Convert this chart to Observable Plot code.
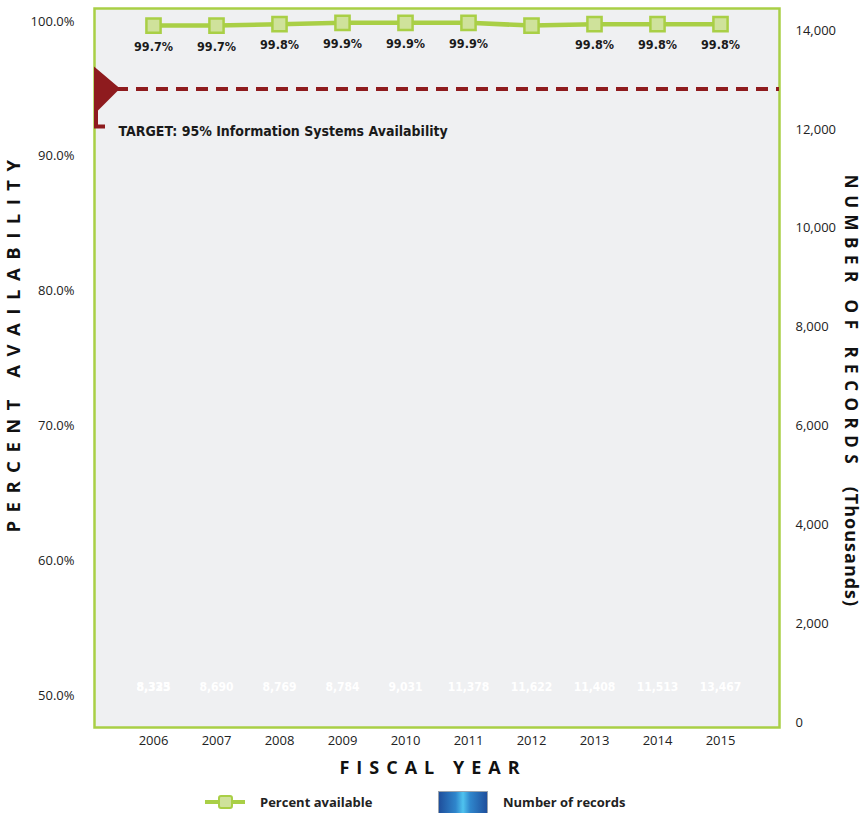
<!DOCTYPE html>
<html>
<head>
<meta charset="utf-8">
<script src="https://cdn.jsdelivr.net/npm/d3@7"></script>
<script src="https://cdn.jsdelivr.net/npm/@observablehq/plot@0.6"></script>
<style>
  html, body { margin: 0; padding: 0; background: #ffffff; }
  #chart { position: relative; width: 864px; }
  .legend { position: relative; height: 23px; width: 864px; overflow: hidden; font-family: "Open Sans", "Noto Sans", sans-serif; font-weight: 700; font-size: 13px; color: #222; }
  .legend .item { position: absolute; top: 0; height: 23px; display: flex; align-items: center; }
  .swatch-line { position: relative; width: 40px; height: 4px; background: #a9cf46; margin-right: 15px; }
  .swatch-line::after { content: ""; position: absolute; left: 13px; top: -5px; width: 11px; height: 10px; background: #cfe29b; border: 2px solid #a9cf46; border-radius: 3px; }
  .swatch-bar { width: 48px; height: 30px; margin-top: 10px; margin-right: 15px; border: 1.5px solid #9aa3ad; background: linear-gradient(to right, #1f4f9c, #2f86cc 35%, #4fc3ef 50%, #2f86cc 65%, #1f4f9c); }
</style>
</head>
<body>
<div id="chart"></div>
<div class="legend">
  <div class="item" style="left:205px"><div class="swatch-line"></div><span>Percent available</span></div>
  <div class="item" style="left:438px"><div class="swatch-bar"></div><span>Number of records</span></div>
</div>
<script>
// ---- Data ----
const years = ["2006","2007","2008","2009","2010","2011","2012","2013","2014","2015"];
const percentAvailable = [99.7, 99.7, 99.8, 99.9, 99.9, 99.9, 99.7, 99.8, 99.8, 99.8];
const percentLabels = ["99.7%","99.7%","99.8%","99.9%","99.9%","99.9%","","99.8%","99.8%","99.8%"];
const recordsThousands = [8335, 8690, 8769, 8784, 9031, 11378, 11622, 11408, 11513, 13467];
// second (overlapping) label printed for 2006 in the source
const extraRecordLabelYears = ["2006"];
const extraRecordLabelValues = [8323];
const targetPercent = 95;
const targetText = "TARGET: 95% Information Systems Availability";
const leftTicks = [50, 60, 70, 80, 90, 100];
const rightTicks = [0, 2000, 4000, 6000, 8000, 10000, 12000, 14000];

const data = years.map((y, i) => ({year: y, pct: percentAvailable[i], label: percentLabels[i], rec: recordsThousands[i]}));
const extraLabels = extraRecordLabelYears.map((y, i) => ({year: y, rec: extraRecordLabelValues[i]}));

// Left scale (percent) and right scale (records) share the vertical space
const yRange = [695, 21];
const recRange = [722, 30];
const pctPix = d3.scaleLinear([50, 100], yRange);
const recPix = d3.scaleLinear([0, 14000], recRange);
const recToPct = r => pctPix.invert(recPix(r));

const fmt = d3.format(",");
const condensed = "'DejaVu Sans Condensed', 'Liberation Sans Narrow', sans-serif";
const sans = "'Open Sans', 'Noto Sans', sans-serif";

const plot = Plot.plot({
  width: 864,
  height: 790,
  marginLeft: 94,
  marginRight: 85,
  marginTop: 8,
  marginBottom: 63,
  style: {fontFamily: sans, fontSize: "13px", color: "#222", background: "transparent"},
  x: {type: "point", domain: years, padding: 0.9, label: null},
  y: {domain: [50, 100], range: yRange, label: null},
  marks: [
    Plot.frame({fill: "#eff0f2", stroke: "#a9cf46", strokeWidth: 2.5}),
    // left axis
    Plot.axisY(leftTicks, {anchor: "left", tickSize: 0, tickPadding: 20, tickFormat: d => d.toFixed(1) + "%", fontSize: 13, label: null}),
    // right axis (records in thousands)
    Plot.axisY(rightTicks.map(recToPct), {anchor: "right", tickSize: 0, tickPadding: 16, textAnchor: "start", tickFormat: (d, i) => fmt(rightTicks[i]), fontSize: 13, label: null}),
    // x axis
    Plot.axisX({tickSize: 0, tickPadding: 8, fontSize: 13, label: null}),
    // axis titles
    Plot.text(["PERCENT AVAILABILITY"], {frameAnchor: "left", textAnchor: "middle", dx: -80, dy: -26, rotate: -90, text: d => d, fontSize: 18.5, fontWeight: 700, fill: "#111", className: "ttl-left"}),
    Plot.text(["NUMBER OF RECORDS (Thousands)"], {frameAnchor: "right", textAnchor: "middle", dx: 71, dy: 23, rotate: 90, text: d => d, fontSize: 17, fontWeight: 700, fill: "#111", className: "ttl-right"}),
    Plot.text(["FISCAL YEAR"], {frameAnchor: "bottom", textAnchor: "middle", dx: -4, dy: 46, text: d => d, fontSize: 18, fontWeight: 700, fill: "#111", className: "ttl-bottom"}),
    // record labels (bars not rendered in source; only their white labels)
    Plot.text(data, {x: "year", text: d => fmt(d.rec), frameAnchor: "bottom", dy: -37, fill: "white", fontFamily: condensed, fontWeight: 700, fontSize: 12}),
    Plot.text(extraLabels, {x: "year", text: d => fmt(d.rec), frameAnchor: "bottom", dy: -37, fill: "white", fontFamily: condensed, fontWeight: 700, fontSize: 12}),
    // target
    Plot.ruleY([targetPercent], {stroke: "#8e1b1e", strokeWidth: 4, strokeDasharray: "12,8", insetLeft: 22}),
    Plot.text([targetText], {frameAnchor: "left", y: () => targetPercent, dx: 24, dy: 43, text: d => d, textAnchor: "start", fontFamily: condensed, fontWeight: 700, fontSize: 14, fill: "#1a1a1a"}),
    // percent line
    Plot.line(data, {x: "year", y: "pct", stroke: "#a9cf46", strokeWidth: 4.5}),
    Plot.dot(data, {x: "year", y: "pct", symbol: "square", r: 8, fill: "#cfe29b", stroke: "#a9cf46", strokeWidth: 2.5}),
    Plot.text(data, {x: "year", y: "pct", text: "label", dy: 21, fontFamily: condensed, fontWeight: 700, fontSize: 12.5, fill: "#1a1a1a"})
  ]
});

// target marker flag drawn at the target value using the plot's y scale
const yT = plot.scale("y").apply(targetPercent);
const x0 = 94;
d3.select(plot).append("path")
  .attr("d", `M${x0},${yT - 22} L${x0 + 26},${yT} L${x0 + 4},${yT + 22} L${x0 + 4},${yT + 36} L${x0 + 11},${yT + 36} L${x0 + 11},${yT + 40} L${x0},${yT + 40} Z`)
  .attr("fill", "#8e1b1e");

// letter spacing for titles
d3.select(plot).selectAll(".ttl-left text").attr("letter-spacing", "8.5px");
d3.select(plot).selectAll(".ttl-bottom text").attr("letter-spacing", "7px");
d3.select(plot).selectAll(".ttl-right text").each(function() {
  const t = d3.select(this);
  t.text(null);
  t.append("tspan").attr("letter-spacing", "6.5px").text("NUMBER OF RECORDS ");
  t.append("tspan").attr("letter-spacing", "1px").attr("font-size", 18).text(" (Thousands)");
});

document.getElementById("chart").append(plot);
</script>
</body>
</html>
